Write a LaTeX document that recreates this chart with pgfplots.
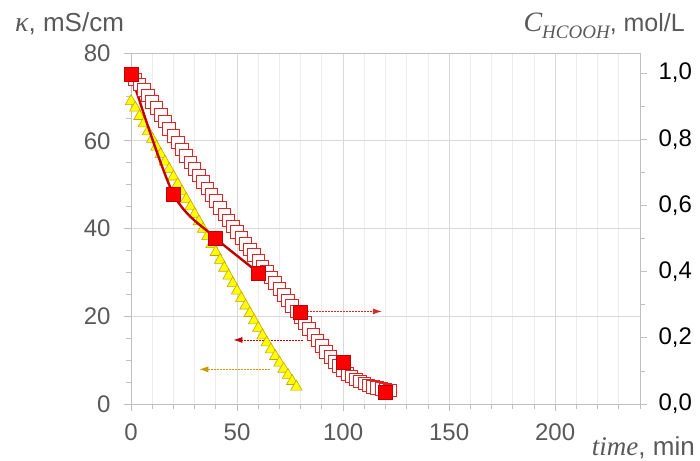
\documentclass[border=0pt]{standalone}
\usepackage{pgfplots}
\pgfplotsset{compat=1.18}
\usetikzlibrary{arrows.meta}
\usepackage{fontspec}
\setmainfont{Liberation Sans}
\newfontfamily\serif{Liberation Serif}
\definecolor{txt}{HTML}{595959}
\definecolor{axgray}{HTML}{BFBFBF}
\definecolor{gridmaj}{HTML}{D9D9D9}
\definecolor{gridmin}{HTML}{EDEDED}
\definecolor{triedge}{HTML}{C9A400}
\definecolor{triface}{HTML}{FFFF00}
\definecolor{sqred}{HTML}{E02424}
\definecolor{darkred}{HTML}{C00000}
\definecolor{gold}{HTML}{CC9900}

\pgfplotstableread{
t k
0 69.0
2 67.5
4 65.6
6 63.9
8 62.1
10 60.4
12 58.6
14 56.9
16 55.2
18 53.5
20 51.8
22 50.1
24 48.4
26 46.7
28 45.0
30 43.3
32 41.6
34 39.9
36 38.2
38 36.4
40 34.6
42 32.8
44 31.0
46 29.2
48 27.5
50 25.8
52 24.1
54 22.4
56 20.7
58 19.0
60 17.3
62 15.6
64 14.0
66 12.4
68 10.9
70 9.4
72 8.0
74 6.6
76 5.2
78 3.9
}\kappatab

\pgfplotstableread{
t c
0 0.995
2 0.981
4 0.965
6 0.949
8 0.932
10 0.913
12 0.894
14 0.874
16 0.853
18 0.831
20 0.810
22 0.790
24 0.769
26 0.749
28 0.730
30 0.710
32 0.690
34 0.671
36 0.651
38 0.632
40 0.613
42 0.593
44 0.573
46 0.555
48 0.536
50 0.519
52 0.502
54 0.484
56 0.467
58 0.450
60 0.433
62 0.415
64 0.399
66 0.382
68 0.365
70 0.348
72 0.330
74 0.313
76 0.296
78 0.279
80 0.261
82 0.244
84 0.227
86 0.210
88 0.192
90 0.175
92 0.158
94 0.142
96 0.127
98 0.115
100 0.102
102 0.091
104 0.083
106 0.074
108 0.068
110 0.062
112 0.056
114 0.052
116 0.048
118 0.046
120 0.042
122 0.041
}\conctab

\pgfplotstableread{
t c
0 0.996
20 0.634
40 0.501
60 0.396
80 0.276
100 0.125
120 0.036
}\samptab

\begin{document}
\begin{tikzpicture}
\useasboundingbox (-131bp,-57bp) rectangle (569bp,404bp);
\pgfplotsset{
  common/.style={
    anchor=south west, at={(0,0)},
    scale only axis, width=509bp, height=351bp,
    xmin=0, xmax=240,
    tick align=outside,
    major tick length=7bp, minor tick length=5bp,
    every tick/.style={axgray, line width=0.8pt},
    ticklabel style={font=\fontsize{24bp}{28bp}\selectfont},
    /pgf/number format/assume math mode=true,
  }
}
\begin{axis}[common,
  ymin=0, ymax=80,
  axis line style={axgray, line width=0.8pt},
  xtick={0,50,100,150,200},
  minor xtick={10,20,30,40,60,70,80,90,110,120,130,140,160,170,180,190,210,220,230,240},
  ytick={0,20,40,60,80},
  minor ytick={5,10,15,25,30,35,45,50,55,65,70,75},
  xtick pos=bottom, ytick pos=left,
  xmajorgrids=true, xminorgrids=true, ymajorgrids=true,
  major grid style={gridmaj, line width=0.8pt},
  minor grid style={gridmin, line width=0.8pt},
  ticklabel style={text=txt},
  xticklabel style={yshift=-9bp},
  yticklabel style={xshift=-10bp},
  clip=false,
]
\addplot[only marks, mark=triangle*, mark size=6.6bp,
  mark options={fill=triface, draw=triedge, line width=0.6pt}]
  table[x=t, y=k] {\kappatab};
\draw[sqred, line width=0.8pt, dash pattern=on 2bp off 1bp, -{Latex[length=9bp,width=6bp]}]
  (axis cs:83,21.1) -- (axis cs:118.3,21.1);
\draw[darkred, line width=0.8pt, dash pattern=on 2bp off 1bp, -{Latex[length=9bp,width=6bp]}]
  (axis cs:81,14.6) -- (axis cs:48.3,14.6);
\draw[gold, line width=0.8pt, dash pattern=on 2bp off 1bp, -{Latex[length=9bp,width=6bp]}]
  (axis cs:65.6,7.9) -- (axis cs:32.2,7.9);
\end{axis}
\begin{axis}[common,
  ymin=0, ymax=1.0604,
  axis x line=none,
  axis y line*=right,
  y axis line style={axgray, line width=0.8pt, -},
  ytick={0,0.2,0.4,0.6,0.8,1.0},
  minor ytick={0.1,0.3,0.5,0.7,0.9},
  yticklabel style={text=black, xshift=8bp,
    /pgf/number format/.cd, fixed, fixed zerofill, precision=1, use comma},
]
\addplot[only marks, mark=square*, mark size=6.3bp,
  mark options={fill=white, draw=sqred, line width=0.9pt}]
  table[x=t, y=c] {\conctab};
\addplot[darkred, line width=2.4pt, smooth, mark=square*, mark size=7bp,
  mark options={fill=red, draw=darkred, line width=0.8pt}]
  table[x=t, y=c] {\samptab};
\end{axis}
\node[anchor=base west, text=txt, font=\fontsize{26bp}{28bp}\selectfont, inner sep=0pt]
  at (-116bp,372bp) {{\serif\itshape\fontsize{28bp}{28bp}\selectfont κ}, mS/cm};
\node[anchor=base east, text=txt, font=\fontsize{25bp}{28bp}\selectfont, inner sep=0pt]
  at (554bp,372bp) {{\serif\itshape\fontsize{28bp}{28bp}\selectfont C\raisebox{-0.22em}{\fontsize{19bp}{19bp}\selectfont HCOOH}}, mol/L};
\node[anchor=base east, text=txt, font=\fontsize{26bp}{28bp}\selectfont, inner sep=0pt]
  at (564bp,-51bp) {{\serif\itshape\fontsize{27bp}{28bp}\selectfont time}, min};
\end{tikzpicture}
\end{document}
